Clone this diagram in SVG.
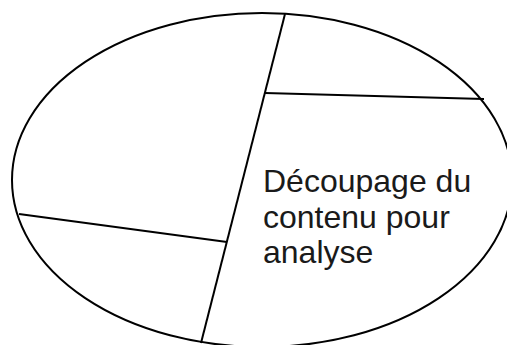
<svg xmlns="http://www.w3.org/2000/svg" width="507" height="345" viewBox="0 0 507 345">
<style>
.s{fill:none;stroke:#000;stroke-width:2}
.t{font-family:"Liberation Sans",Arial,sans-serif;font-size:32px;fill:#1a1a1a}
</style>
<rect width="507" height="345" fill="#fff"/>
<g id="shape">
<ellipse class="s" cx="262" cy="180" rx="250" ry="167"/>
</g>
<g id="connectors">
<line class="s" x1="285" y1="14" x2="201" y2="343"/>
<line class="s" x1="265" y1="93" x2="484" y2="99"/>
<line class="s" x1="19" y1="214" x2="227" y2="242"/>
</g>
<g id="label">
<text class="t" x="263" y="192">Découpage du</text>
<text class="t" x="263" y="228">contenu pour</text>
<text class="t" x="263" y="263">analyse</text>
</g>
</svg>
